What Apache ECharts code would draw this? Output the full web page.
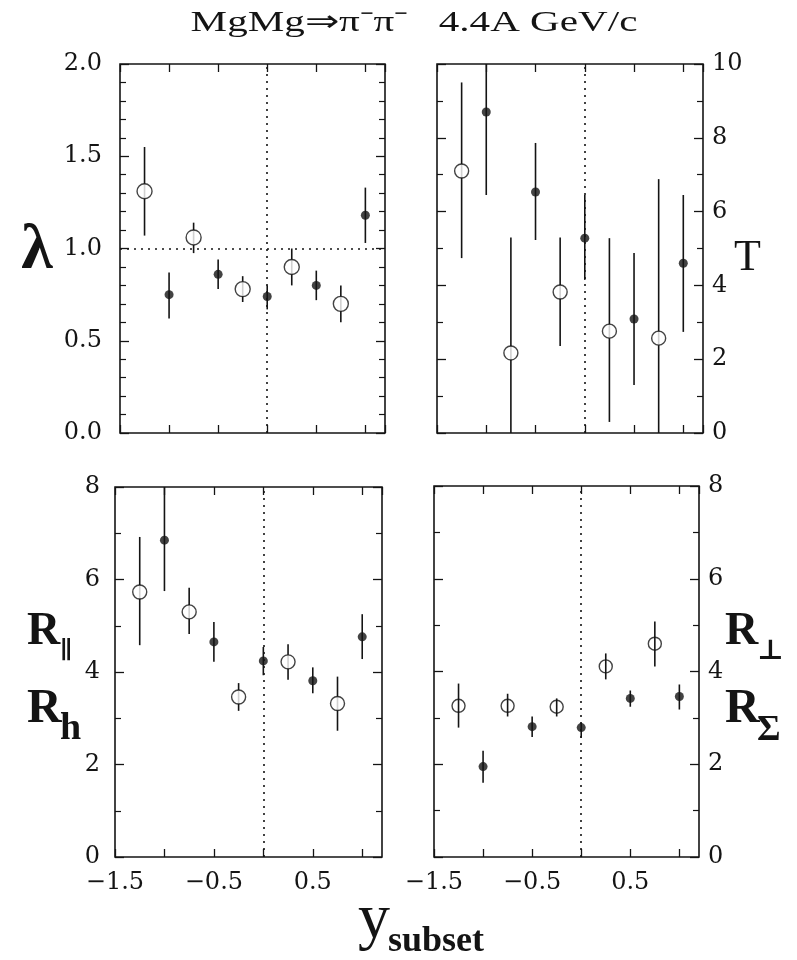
<!DOCTYPE html>
<html><head><meta charset="utf-8">
<script src="https://cdn.jsdelivr.net/npm/echarts@6/dist/echarts.min.js"></script>
<style>html,body{margin:0;padding:0;background:#fff}#c{width:797px;height:960px}</style>
</head><body><div id="c"></div>
<script>
// ---- data ----
const xOpen   = [-1.25, -0.75, -0.25, 0.25, 0.75];
const xFilled = [-1.0, -0.5, 0.0, 0.5, 1.0];

const lambdaOpen     = [1.31, 1.06, 0.78, 0.90, 0.70];
const lambdaOpenLo   = [1.07, 0.975, 0.71, 0.80, 0.60];
const lambdaOpenHi   = [1.55, 1.14, 0.85, 1.00, 0.80];
const lambdaFilled   = [0.75, 0.86, 0.74, 0.80, 1.18];
const lambdaFilledLo = [0.62, 0.78, 0.67, 0.72, 1.03];
const lambdaFilledHi = [0.87, 0.94, 0.80, 0.88, 1.33];

const tOpen     = [7.1, 2.17, 3.82, 2.76, 2.57];
const tOpenLo   = [4.74, 0.0, 2.36, 0.3, 0.0];
const tOpenHi   = [9.5, 5.3, 5.3, 5.28, 6.88];
const tFilled   = [8.7, 6.53, 5.28, 3.09, 4.6];
const tFilledLo = [6.45, 5.23, 4.15, 1.3, 2.74];
const tFilledHi = [10.0, 7.86, 6.45, 4.88, 6.45];

const rLongOpen     = [5.73, 5.30, 3.46, 4.22, 3.32];
const rLongOpenLo   = [4.58, 4.82, 3.16, 3.83, 2.73];
const rLongOpenHi   = [6.92, 5.82, 3.76, 4.60, 3.90];
const rLongFilled   = [6.85, 4.65, 4.24, 3.81, 4.76];
const rLongFilledLo = [5.75, 4.22, 3.93, 3.54, 4.28];
const rLongFilledHi = [8.0, 5.08, 4.54, 4.10, 5.25];

const rPerpOpen     = [3.26, 3.26, 3.24, 4.11, 4.60];
const rPerpOpenLo   = [2.79, 3.03, 3.03, 3.83, 4.11];
const rPerpOpenHi   = [3.74, 3.52, 3.42, 4.39, 5.08];
const rPerpFilled   = [1.95, 2.81, 2.79, 3.42, 3.46];
const rPerpFilledLo = [1.60, 2.59, 2.57, 3.24, 3.18];
const rPerpFilledHi = [2.29, 3.03, 2.90, 3.59, 3.72];

const xTickValues = [-1.5, -0.5, 0.5];
const xTickLabels = ['\u22121.5', '\u22120.5', '0.5'];
const lambdaTickLabels = ['0.0', '0.5', '1.0', '1.5', '2.0'];
const tTickLabels = ['0', '2', '4', '6', '8', '10'];
const rTickLabels = ['0', '2', '4', '6', '8'];

const titleText = 'MgMg\u21D2\u03C0\u207B\u03C0\u207B   4.4A GeV/c';

// ---- chart ----
const INK = '#141414';
const TICKFONT = 'DejaVu Serif';

const panels = [
  {rect:{left:120, top:64, width:265, height:369}, yMin:0, yMax:2, yInt:0.5, minor:5, labels:lambdaTickLabels, ySide:'left', ySideMargin:18, xLabels:false,
   open:lambdaOpen, openLo:lambdaOpenLo, openHi:lambdaOpenHi, filled:lambdaFilled, filledLo:lambdaFilledLo, filledHi:lambdaFilledHi,
   openSize:15, filledSize:9, openFill:'#fff', hLine:1.0},
  {rect:{left:437, top:64, width:266, height:369}, yMin:0, yMax:10, yInt:2, minor:2, labels:tTickLabels, ySide:'right', ySideMargin:9, xLabels:false,
   open:tOpen, openLo:tOpenLo, openHi:tOpenHi, filled:tFilled, filledLo:tFilledLo, filledHi:tFilledHi,
   openSize:14, filledSize:9, openFill:'#fff'},
  {rect:{left:115, top:487, width:267, height:370}, yMin:0, yMax:8, yInt:2, minor:2, labels:rTickLabels, ySide:'left', ySideMargin:15, xLabels:true,
   open:rLongOpen, openLo:rLongOpenLo, openHi:rLongOpenHi, filled:rLongFilled, filledLo:rLongFilledLo, filledHi:rLongFilledHi,
   openSize:14, filledSize:9, openFill:'#fff'},
  {rect:{left:434, top:486, width:265, height:371}, yMin:0, yMax:8, yInt:2, minor:2, labels:rTickLabels, ySide:'right', ySideMargin:9, xLabels:true,
   open:rPerpOpen, openLo:rPerpOpenLo, openHi:rPerpOpenHi, filled:rPerpFilled, filledLo:rPerpFilledLo, filledHi:rPerpFilledHi,
   openSize:13, filledSize:9, openFill:'rgba(0,0,0,0)'}
];

function xFmt(v){
  const r = Math.round(v*100)/100;
  const k = xTickValues.findIndex(t => Math.abs(t - r) < 1e-6);
  return k >= 0 ? xTickLabels[k] : '';
}
function yFmtFactory(p){
  return function(v){
    const k = Math.round((v - p.yMin)/p.yInt);
    if (Math.abs(p.yMin + k*p.yInt - v) > 1e-6) return '';
    return p.labels[k] !== undefined ? p.labels[k] : '';
  };
}
function pts(xs, ys){ return xs.map((x,i)=>[x, ys[i]]); }
function bars(xs, lo, hi){ return xs.map((x,i)=>[x, lo[i], hi[i]]); }

const grids = [], xAxes = [], yAxes = [], series = [];
panels.forEach((p, g) => {
  grids.push(Object.assign({show:true, borderColor:INK, borderWidth:1.6, backgroundColor:'transparent', containLabel:false, outerBoundsMode:'none'}, p.rect));
  const tick = {show:true, inside:true, length:8, lineStyle:{color:INK, width:1.3}};
  ['bottom','top'].forEach(pos => {
    xAxes.push({gridIndex:g, type:'value', position:pos, min:-1.5, max:1.2, interval:0.5,
      axisLine:{show:false, onZero:false}, splitLine:{show:false}, axisTick:tick,
      axisLabel:{show: pos==='bottom' && p.xLabels, margin:14, fontFamily:TICKFONT, fontSize:24, color:INK,
        showMinLabel:true, showMaxLabel:false, formatter:xFmt}});
  });
  ['left','right'].forEach(pos => {
    yAxes.push({gridIndex:g, type:'value', position:pos, min:p.yMin, max:p.yMax, interval:p.yInt,
      axisLine:{show:false, onZero:false}, splitLine:{show:false}, minorSplitLine:{show:false},
      axisTick:{show:true, inside:true, length:9, lineStyle:{color:INK, width:1.3}},
      minorTick:{show:true, splitNumber:p.minor, length:6, lineStyle:{color:INK, width:1.2}},
      axisLabel:{show: pos===p.ySide, margin:p.ySideMargin, fontFamily:TICKFONT, fontSize:24, color:INK,
        showMinLabel:true, showMaxLabel:true, formatter:yFmtFactory(p)}});
  });
  const xi = 2*g, yi = 2*g;
  const render = function(params, api){
    const x = api.value(0);
    const lo = Math.max(api.value(1), p.yMin), hi = Math.min(api.value(2), p.yMax);
    const a = api.coord([x, lo]), b = api.coord([x, hi]);
    return {type:'line', shape:{x1:a[0], y1:a[1], x2:b[0], y2:b[1]}, style:{stroke:INK, lineWidth:1.6}};
  };
  series.push({type:'custom', xAxisIndex:xi, yAxisIndex:yi, clip:true, renderItem:render,
    encode:{x:0, y:[1,2]}, data:bars(xOpen, p.openLo, p.openHi), silent:true, z:2});
  series.push({type:'custom', xAxisIndex:xi, yAxisIndex:yi, clip:true, renderItem:render,
    encode:{x:0, y:[1,2]}, data:bars(xFilled, p.filledLo, p.filledHi), silent:true, z:2});
  const ml = [{xAxis:0}];
  if (p.hLine !== undefined) ml.push({yAxis:p.hLine});
  series.push({type:'scatter', xAxisIndex:xi, yAxisIndex:yi, symbol:'circle', symbolSize:p.openSize,
    itemStyle:{color:p.openFill, borderColor:INK, borderWidth:1.4}, data:pts(xOpen, p.open), z:3, silent:true,
    markLine:{silent:true, symbol:'none', label:{show:false}, animation:false,
      lineStyle:{color:INK, width:1.6, type:[2,5]}, data:ml}});
  series.push({type:'scatter', xAxisIndex:xi, yAxisIndex:yi, symbol:'circle', symbolSize:p.filledSize,
    itemStyle:{color:INK, borderWidth:0}, data:pts(xFilled, p.filled), z:4, silent:true});
});

function txt(x, y, text, font, align, extra){
  return Object.assign({type:'text', x:x, y:y, silent:true,
    style:{text:text, font:font, fill:INK, textAlign:align||'left', textVerticalAlign:'middle', verticalAlign:'middle'}}, extra||{});
}

const graphic = [
  txt(414, 23, titleText, '30px "Liberation Serif"', 'center', {scaleX:1.37}),
  txt(37, 251, '\u03BB', 'bold 64px "Liberation Serif"', 'center'),
  txt(734, 258, 'T', '44px "Liberation Serif"', 'left'),
  txt(27, 632, 'R', 'bold 46px "Liberation Serif"', 'left'),
  txt(60, 652, '\u2225', 'bold 24px "DejaVu Serif"', 'left'),
  txt(27, 710, 'R', 'bold 48px "Liberation Serif"', 'left'),
  txt(60, 729, 'h', 'bold 38px "Liberation Serif"', 'left'),
  txt(725, 632, 'R', 'bold 46px "Liberation Serif"', 'left'),
  txt(757, 652, '\u22A5', 'bold 28px "DejaVu Serif"', 'left'),
  txt(725, 710, 'R', 'bold 48px "Liberation Serif"', 'left'),
  txt(757, 731, '\u03A3', 'bold 36px "Liberation Serif"', 'left'),
  txt(358, 920, 'y', '64px "Liberation Serif"', 'left'),
  txt(388, 942, 'subset', 'bold 36px "Liberation Serif"', 'left')
];

const chart = echarts.init(document.getElementById('c'), null, {renderer:'canvas'});
chart.setOption({
  animation:false,
  backgroundColor:'#fff',
  grid:grids, xAxis:xAxes, yAxis:yAxes, series:series, graphic:graphic
});
</script>
</body></html>
